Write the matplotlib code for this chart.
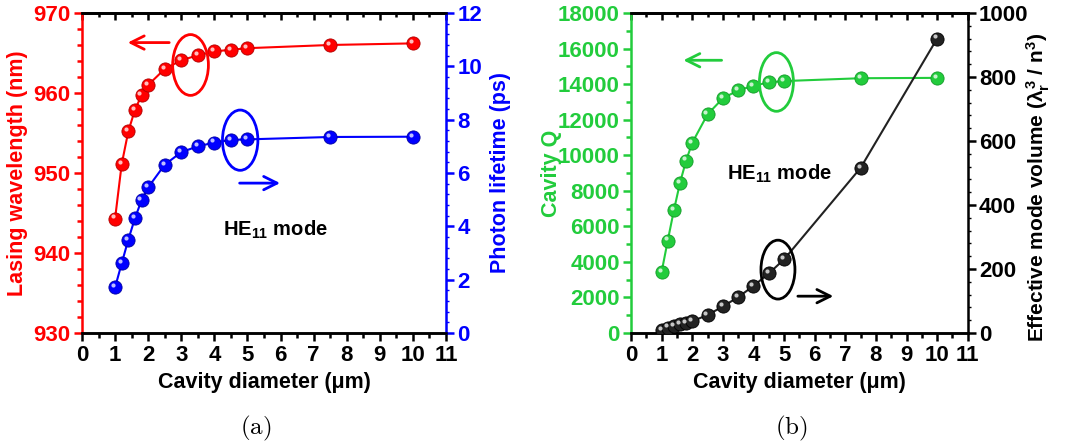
import matplotlib
matplotlib.use('Agg')
import matplotlib.pyplot as plt
from matplotlib.patches import Ellipse
from matplotlib.ticker import MultipleLocator
from matplotlib.transforms import offset_copy

plt.rcParams['font.family'] = ['Liberation Sans', 'DejaVu Sans']
plt.rcParams['font.weight'] = 'bold'
plt.rcParams['mathtext.fontset'] = 'custom'
plt.rcParams['mathtext.rm'] = 'Liberation Sans:bold'
plt.rcParams['mathtext.bf'] = 'Liberation Sans:bold'
plt.rcParams['mathtext.it'] = 'Liberation Sans:bold'

# cavity diameters (um), shared by both panels
diameter = [1, 1.2, 1.4, 1.6, 1.8, 2, 2.5, 3, 3.5, 4, 4.5, 5, 7.5, 10]

# (a) lasing wavelength (nm) and photon lifetime (ps)
wavelength = [944.3, 951.1, 955.2, 957.9, 959.7, 961.0, 963.0, 964.1, 964.7,
              965.2, 965.4, 965.6, 966.0, 966.2]
lifetime = [1.71, 2.61, 3.50, 4.30, 4.98, 5.46, 6.31, 6.78, 7.00, 7.14,
            7.24, 7.26, 7.35, 7.36]

# (b) cavity Q and effective mode volume (lambda_r^3 / n^3)
cavity_q = [3440, 5200, 6900, 8450, 9700, 10700, 12300, 13200, 13650, 13900,
            14100, 14170, 14330, 14350]
mode_volume = [10, 17, 22, 28, 32, 37, 56, 83, 112, 147, 186, 230, 516, 920]

RED = '#ff0000'
BLUE = '#0000ff'
GREEN = '#22cc3c'
BLACK = '#000000'
TICK_FS = 16
LABEL_FS = 15.5


def balls(ax, x, y, color, edge):
    # line + sphere-like markers with a small specular highlight
    ax.plot(x, y, '-', color=color, lw=1.5, zorder=3)
    ax.plot(x, y, 'o', ms=9.5, mfc=color, mec=edge, mew=0.6, zorder=4)
    shift = offset_copy(ax.transData, fig=fig, x=-1.5, y=1.5, units='points')
    ax.plot(x, y, 'o', ms=3.0, mfc='white', mec='none', alpha=0.75,
            transform=shift, zorder=5)


def style_axes(ax, ax2, lcolor, rcolor):
    for a in (ax, ax2):
        for s in a.spines.values():
            s.set_linewidth(1.8)
    ax.spines['left'].set_color(lcolor)
    ax2.spines['left'].set_visible(False)
    ax2.spines['right'].set_color(rcolor)
    ax.spines['right'].set_visible(False)
    ax.set_xlim(0, 11)
    ax.xaxis.set_major_locator(MultipleLocator(1))
    ax.xaxis.set_minor_locator(MultipleLocator(0.5))
    ax.tick_params(axis='x', which='both', direction='out', top=False,
                   labelsize=TICK_FS, width=1.8, colors=BLACK, pad=3)
    ax.tick_params(axis='x', which='major', length=6)
    ax.tick_params(axis='x', which='minor', length=3.5)
    ax2.tick_params(axis='x', which='both', top=False, bottom=False)
    ax.tick_params(axis='y', which='both', direction='out', labelsize=TICK_FS,
                   width=1.8, colors=lcolor, pad=2)
    ax.tick_params(axis='y', which='major', length=6)
    ax.tick_params(axis='y', which='minor', length=3.5)
    ax2.tick_params(axis='y', which='both', direction='out', labelsize=TICK_FS,
                    width=1.8, colors=rcolor, pad=2)
    ax2.tick_params(axis='y', which='major', length=6)
    ax2.tick_params(axis='y', which='minor', length=2.5, width=1.0)
    # top spine ticks point inward
    top = ax.secondary_xaxis('top')
    top.xaxis.set_major_locator(MultipleLocator(1))
    top.xaxis.set_minor_locator(MultipleLocator(0.5))
    top.tick_params(which='both', direction='in', labeltop=False, width=1.8)
    top.tick_params(which='major', length=5)
    top.tick_params(which='minor', length=3)
    top.spines['top'].set_linewidth(1.8)
    ax.set_xlabel('Cavity diameter (μm)', fontsize=LABEL_FS, fontweight='bold',
                  labelpad=4)


fig = plt.figure(figsize=(10.73, 4.46), dpi=100)

# ---------------- panel (a) ----------------
ax1 = fig.add_axes([0.0764, 0.2534, 0.3393, 0.7175])
ax1b = ax1.twinx()
style_axes(ax1, ax1b, RED, BLUE)
ax1.set_ylim(930, 970)
ax1.yaxis.set_major_locator(MultipleLocator(10))
ax1.yaxis.set_minor_locator(MultipleLocator(2))
ax1b.set_ylim(0, 12)
ax1b.yaxis.set_major_locator(MultipleLocator(2))
ax1b.yaxis.set_minor_locator(MultipleLocator(0.4))
ax1.set_ylabel('Lasing wavelength (nm)', color=RED, fontsize=LABEL_FS,
               fontweight='bold', labelpad=4)
ax1b.set_ylabel('Photon lifetime (ps)', color=BLUE, fontsize=LABEL_FS,
                fontweight='bold', labelpad=6)

balls(ax1, diameter, wavelength, RED, '#b00000')
balls(ax1b, diameter, lifetime, BLUE, '#0000a0')

ax1.add_patch(Ellipse((3.28, 963.5), 1.08, 7.6, fill=False, ec=RED, lw=2, zorder=6))
ax1b.add_patch(Ellipse((4.78, 7.23), 1.07, 2.26, fill=False, ec=BLUE, lw=2, zorder=6))
ax1.annotate('', xy=(1.3, 966.3), xytext=(2.72, 966.3),
             arrowprops=dict(arrowstyle='->', color=RED, lw=2, mutation_scale=24))
ax1b.annotate('', xy=(6.07, 5.62), xytext=(4.68, 5.62),
              arrowprops=dict(arrowstyle='->', color=BLUE, lw=2, mutation_scale=24))
ax1.text(4.25, 942.9, r'HE$_{11}$ mode', fontsize=14.5, fontweight='bold',
         va='center', ha='left')

# ---------------- panel (b) ----------------
ax2 = fig.add_axes([0.5881, 0.2534, 0.3138, 0.7175])
ax2b = ax2.twinx()
style_axes(ax2, ax2b, GREEN, BLACK)
ax2.set_ylim(0, 18000)
ax2.yaxis.set_major_locator(MultipleLocator(2000))
ax2.yaxis.set_minor_locator(MultipleLocator(1000))
ax2b.set_ylim(0, 1000)
ax2b.yaxis.set_major_locator(MultipleLocator(200))
ax2b.yaxis.set_minor_locator(MultipleLocator(40))
ax2.set_ylabel('Cavity Q', color=GREEN, fontsize=LABEL_FS, fontweight='bold',
               labelpad=-3)
ax2b.set_ylabel(r'Effective mode volume ($λ_r^3$ / $n^3$)', color=BLACK,
                fontsize=15, fontweight='bold')
ax2b.yaxis.set_label_coords(1.168, 0.455)

balls(ax2, diameter, cavity_q, GREEN, '#139a28')
balls(ax2b, diameter, mode_volume, '#222222', '#000000')

ax2.add_patch(Ellipse((4.75, 14120), 1.11, 3300, fill=False, ec=GREEN, lw=2, zorder=6))
ax2b.add_patch(Ellipse((4.8, 198), 1.11, 184, fill=False, ec=BLACK, lw=2, zorder=6))
ax2.annotate('', xy=(1.62, 15340), xytext=(3.05, 15340),
             arrowprops=dict(arrowstyle='->', color=GREEN, lw=2, mutation_scale=24))
ax2b.annotate('', xy=(6.7, 115), xytext=(5.36, 115),
              arrowprops=dict(arrowstyle='->', color=BLACK, lw=2, mutation_scale=24))
ax2.text(3.15, 8930, r'HE$_{11}$ mode', fontsize=14.5, fontweight='bold',
         va='center', ha='left')

# panel tags
fig.text(0.2383, 0.04, r'$\mathrm{(a)}$', fontsize=18, ha='center', va='center',
         math_fontfamily='cm')
fig.text(0.738, 0.04, r'$\mathrm{(b)}$', fontsize=18, ha='center', va='center',
         math_fontfamily='cm')

fig.savefig('out.png', dpi=100)
